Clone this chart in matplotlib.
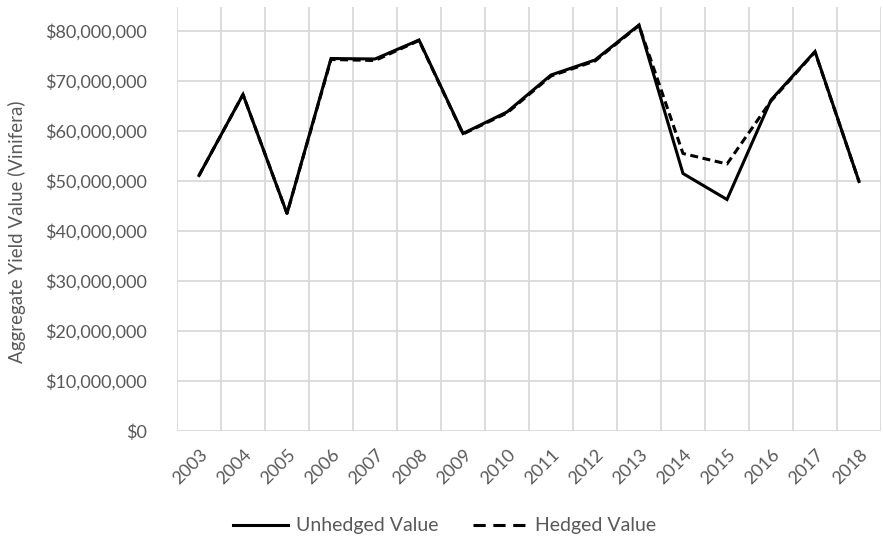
import matplotlib
matplotlib.use("Agg")
import matplotlib.pyplot as plt
from matplotlib.lines import Line2D
from matplotlib.ticker import FuncFormatter, MultipleLocator

years = [str(y) for y in range(2003, 2019)]
unhedged = [51.1, 67.3, 43.5, 74.5, 74.4, 78.2, 59.5, 63.8, 71.2, 74.2, 81.2,
            51.5, 46.3, 66.2, 75.9, 49.9]
hedged = [51.1, 67.3, 43.5, 74.3, 74.1, 78.1, 59.4, 63.6, 71.0, 74.0, 81.1,
          55.5, 53.4, 66.0, 75.8, 49.9]
unhedged = [v * 1e6 for v in unhedged]
hedged = [v * 1e6 for v in hedged]

plt.rcParams['font.family'] = ['Lato', 'DejaVu Sans']
text_color = '#595959'
grid_color = '#d9d9d9'

W, H = 883, 538
fig = plt.figure(figsize=(W / 100, H / 100), dpi=100)
left, right, bottom, top = 177, 881, 431, 7
ax = fig.add_axes([left / W, 1 - bottom / H, (right - left) / W, (bottom - top) / H])

x = list(range(len(years)))
ax.plot(x, unhedged, color='black', lw=2.2, solid_joinstyle='miter')
ax.plot(x, hedged, color='black', lw=2.2, ls=(0, (2.6, 1.5)))

ax.set_xlim(-0.5, len(years) - 0.5)
ax.set_ylim(0, 84.8e6)
ax.yaxis.set_major_locator(MultipleLocator(10e6))
ax.yaxis.set_major_formatter(FuncFormatter(lambda v, p: f"${v:,.0f}"))

# category boundaries as vertical gridlines
for b in range(len(years) + 1):
    ax.axvline(b - 0.5, color=grid_color, lw=1.3, zorder=0)
for v in range(0, 90_000_000, 10_000_000):
    ax.axhline(v, color=grid_color, lw=1.3, zorder=0)

ax.set_xticks(x)
ax.set_xticklabels(years, rotation=45, ha='right', va='top', rotation_mode='anchor')
for s in ax.spines.values():
    s.set_visible(False)
ax.tick_params(axis='both', length=0, colors=text_color, labelsize=13)
ax.tick_params(axis='x', pad=11)
ax.tick_params(axis='y', pad=22)

fig.text(17 / W, 1 - 232 / H, 'Aggregate Yield Value (Vinifera)', rotation=90,
         ha='center', va='center', color=text_color, fontsize=13.5)

handles = [
    Line2D([], [], color='black', lw=2.2, label='Unhedged Value'),
    Line2D([], [], color='black', lw=2.2, ls=(0, (4, 2.5)), label='Hedged Value'),
]
leg = fig.legend(handles=handles, loc='center', bbox_to_anchor=(445 / W, 1 - 526 / H),
                 ncol=2, frameon=False, fontsize=14, handlelength=2.8,
                 columnspacing=1.8, handletextpad=0.4)
for t in leg.get_texts():
    t.set_color(text_color)

fig.savefig('out.png', dpi=100)
